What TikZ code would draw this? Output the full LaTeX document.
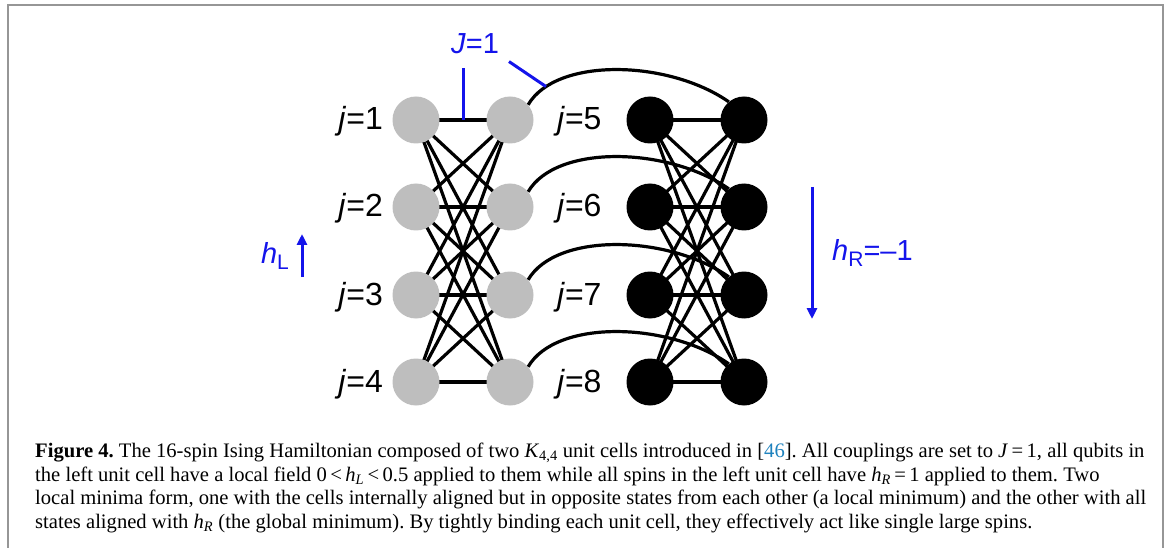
\documentclass[tikz,border=0pt]{standalone}
\usepackage{fontspec}
\setmainfont{Liberation Serif}
\newfontfamily\helv{Liberation Sans}
\usetikzlibrary{arrows.meta,backgrounds,calc}
\definecolor{hblue}{RGB}{20,20,235}
\definecolor{ngray}{RGB}{190,190,190}
\definecolor{refblue}{RGB}{30,130,190}
\definecolor{framegray}{RGB}{150,150,150}
\frenchspacing
\begin{document}
\begin{tikzpicture}[x=1pt,y=-1pt,
  spin/.style={circle,minimum size=47pt,inner sep=0pt},
  upspin/.style={spin,fill=ngray},
  downspin/.style={spin,fill=black},
  coupler/.style={line width=3.2pt,black},
  field/.style={line width=3pt,hblue},
  fieldarrow/.style={field,-{Triangle[length=11pt,width=10pt]}},
  jlabel/.style={font=\helv\fontsize{32}{36}\selectfont,inner sep=0pt},
  bluelabel/.style={font=\helv\fontsize{29}{32}\selectfont,text=hblue,inner sep=0pt},
  capline/.style={anchor=base west,inner sep=0pt,font=\fontsize{20.6}{24}\selectfont}
]
\useasboundingbox (0,0) rectangle (1170,548);
\begin{scope}[on background layer]
  \fill[white] (0,0) rectangle (1170,548);
\end{scope}
\draw[framegray,line width=1.5pt] (8,548) -- (8,5) -- (1163,5) -- (1163,548);

% spins
\foreach \r/\y in {1/120,2/207,3/295,4/382} {
  \node[upspin] (a\r) at (416,\y) {};
  \node[upspin] (b\r) at (510,\y) {};
  \node[downspin] (c\r) at (650,\y) {};
  \node[downspin] (d\r) at (744,\y) {};
}

% intra-cell couplers (K_{4,4})
\begin{scope}[on background layer]
\foreach \i in {1,...,4} {
  \foreach \k in {1,...,4} {
    \draw[coupler] (a\i.center) -- (b\k.center);
    \draw[coupler] (c\i.center) -- (d\k.center);
  }
}
\end{scope}

% inter-cell couplers
\draw[coupler] (b1.40) .. controls +(28,-48) and +(-60,-42) .. (d1.130) coordinate[pos=0.15] (jc);
\foreach \i in {2,3,4} {
  \draw[coupler] (b\i.40) .. controls +(28,-48) and +(-60,-42) .. (d\i.130);
}

% J=1 indicator
\path (a1) -- (b1) coordinate[pos=0.5] (jm);
\draw[field] (jm) -- ++(0,-52);
\draw[field] (jc) -- ++(-37,-25);
\node[bluelabel,anchor=base] (jl) at (475,54) {\textit{J}=1};

% j labels
\foreach \r/\y in {1/130,2/217,3/305,4/392} {
  \node[jlabel,anchor=base east] (la\r) at (383,\y) {\textit{j}=\r};
}
\foreach \r/\n/\y in {1/5/130,2/6/217,3/7/305,4/8/392} {
  \node[jlabel,anchor=base west] (lb\r) at (557,\y) {\textit{j}=\n};
}

% fields
\coordinate (hlb) at (302,277);
\coordinate (hlt) at (302,234);
\draw[fieldarrow] (hlb) -- (hlt);
\node[bluelabel,anchor=base] (hl) at (275,263) {\textit{h}\raisebox{-6pt}{\fontsize{21}{21}\selectfont L}};
\coordinate (hrt) at (812,187);
\coordinate (hrb) at (812,319);
\draw[fieldarrow] (hrt) -- (hrb);
\node[bluelabel,anchor=base west] (hr) at (832,260) {\textit{h}\raisebox{-6pt}{\fontsize{21}{21}\selectfont R}=\textendash1};

% caption
\node[capline] (c1) at (35,457) {\textbf{Figure 4.} The 16-spin Ising Hamiltonian composed of two \textit{K}\textsubscript{4,4} unit cells introduced in [{\color{refblue}46}]. All couplings are set to \textit{J}\,=\,1, all qubits in};
\node[capline] (c2) at (35,481) {the left unit cell have a local field 0\,<\,\textit{h}\textsubscript{\textit{L}}\,<\,0.5 applied to them while all spins in the left unit cell have \textit{h}\textsubscript{\textit{R}}\,=\,1 applied to them. Two};
\node[capline] (c3) at (35,504) {local minima form, one with the cells internally aligned but in opposite states from each other (a local minimum) and the other with all};
\node[capline] (c4) at (35,528) {states aligned with \textit{h}\textsubscript{\textit{R}} (the global minimum). By tightly binding each unit cell, they effectively act like single large spins.};
\end{tikzpicture}
\end{document}
